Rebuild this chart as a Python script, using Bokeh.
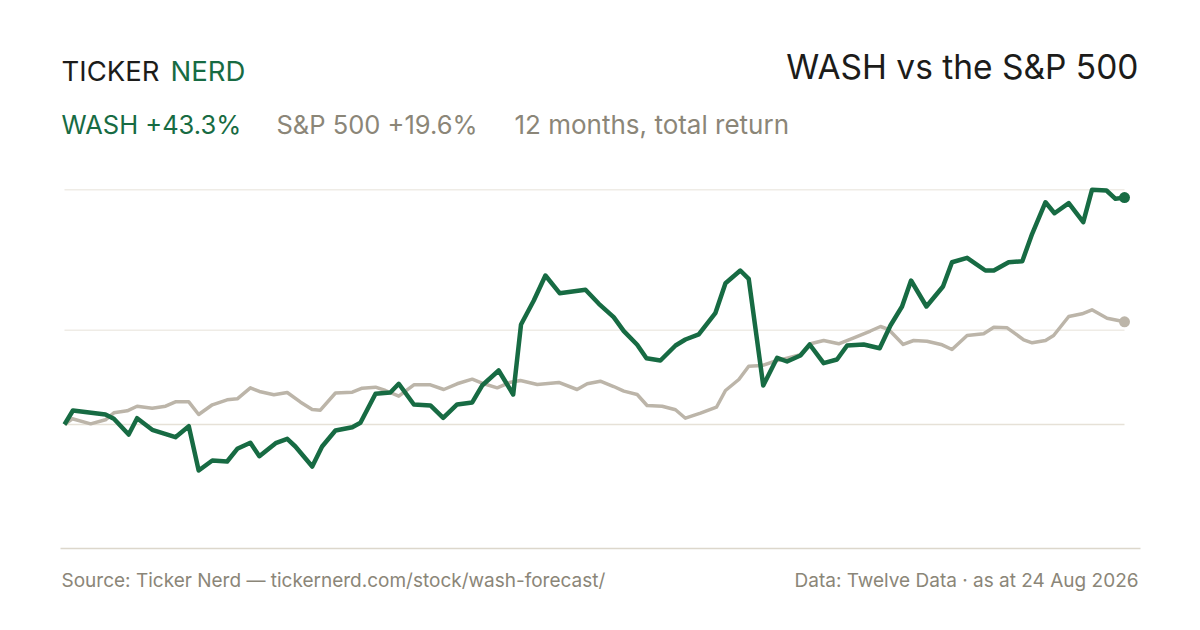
from bokeh.plotting import figure
from bokeh.models import Range1d
from bokeh.core.properties import value
from bokeh.embed import file_html
from bokeh.resources import INLINE

# ---- data: day offset from 24 Aug 2025, total return in % ----
wash_days = [0, 2.9, 14.1, 17.0, 22.1, 25.0, 30.2, 38.2, 42.8, 46.2, 50.9, 56.0, 59.5, 64.0,
             67.1, 72.7, 76.7, 79.5, 85.3, 88.7, 93.3, 99.1, 101.9, 107.1, 112.2, 115.1,
             120.3, 126.0, 130.4, 135.2, 140.4, 143.8, 149.5, 154.5, 157.2, 161.6, 165.6,
             170.5, 179.4, 184.0, 189.1, 192.6, 197.2, 200.4, 205.2, 210.4, 213.8, 218.4,
             224.1, 227.6, 232.7, 235.6, 240.6, 245.4, 248.8, 253.4, 256.6, 261.4, 266.0,
             269.5, 275.2, 280.7, 284.4, 288.4, 291.5, 296.8, 302.5, 305.6, 310.8, 317.1,
             320.0, 325.1, 329.8, 333.2, 337.8, 340.9, 345.8, 350.8, 353.8, 358.8, 361.9, 365]
wash_ret = [0.0, 2.67, 1.91, 1.09, -1.91, 1.20, -1.01, -2.42, -0.32, -8.78, -6.87, -7.06,
            -4.64, -3.49, -6.05, -3.57, -2.73, -4.20, -8.02, -4.20, -1.15, -0.52, 0.32, 5.86,
            6.11, 7.77, 3.82, 3.63, 1.28, 3.82, 4.20, 7.44, 10.31, 5.73, 19.08, 23.66, 28.44,
            25.06, 25.71, 23.03, 20.48, 17.81, 15.21, 12.65, 12.21, 15.08, 16.22, 17.18,
            21.24, 26.97, 29.39, 27.81, 7.44, 12.73, 12.02, 13.17, 15.27, 11.70, 12.40,
            15.08, 15.27, 14.56, 18.89, 22.52, 27.48, 22.52, 26.34, 30.97, 31.81, 29.39,
            29.39, 30.97, 31.16, 36.39, 42.42, 40.32, 42.23, 38.61, 44.79, 44.66, 43.07, 43.3]

spx_days = [0, 2.7, 9.0, 14.1, 17.0, 21.6, 25.0, 30.2, 34.8, 38.2, 42.8, 46.2, 50.9, 56.0,
            59.5, 64.0, 67.1, 72.1, 76.7, 81.3, 85.3, 88.1, 93.3, 99.1, 102.5, 107.1, 110.5,
            115.1, 120.3, 126.0, 130.6, 135.2, 140.4, 144.4, 149.0, 153.6, 157.0, 162.8,
            170.2, 176.5, 180.0, 184.5, 189.1, 192.6, 197.2, 200.6, 205.8, 210.4, 213.8,
            219.0, 224.5, 227.6, 232.2, 235.6, 240.2, 245.4, 248.8, 253.4, 256.9, 261.4,
            266.6, 271.8, 277.5, 281.0, 283.8, 288.8, 292.4, 297.0, 302.2, 305.6, 310.8,
            316.5, 320.0, 324.6, 330.3, 333.2, 337.8, 340.6, 345.8, 350.4, 353.8, 359.0, 365]
spx_ret = [0.0, 1.09, 0.13, 0.90, 2.23, 2.61, 3.49, 3.11, 3.49, 4.33, 4.33, 1.91, 3.76, 4.71,
           4.90, 7.00, 6.30, 5.67, 6.11, 4.26, 2.86, 2.73, 6.01, 6.16, 6.93, 7.12, 6.49, 5.40,
           7.58, 7.58, 6.68, 7.77, 8.65, 7.77, 7.00, 8.07, 8.40, 7.63, 8.02, 6.68, 7.77, 8.26,
           7.25, 6.36, 5.73, 3.63, 3.49, 2.81, 1.20, 2.16, 3.30, 6.49, 8.59, 11.13, 11.26,
           12.21, 12.65, 13.30, 15.40, 16.03, 15.40, 16.55, 17.84, 18.70, 18.13, 15.27,
           16.03, 15.90, 15.21, 14.31, 16.98, 17.31, 18.57, 18.45, 16.16, 15.59, 16.03,
           16.98, 20.61, 21.13, 21.89, 20.29, 19.6]

title = "WASH vs the S&P 500"
logo_a, logo_b = "TICKER", "NERD"
sub_wash = "WASH +43.3%"
sub_spx = "S&P 500 +19.6%"
sub_note = "12 months, total return"
source = "Source: Ticker Nerd \u2014 tickernerd.com/stock/wash-forecast/"
data_note = "Data: Twelve Data \u00b7 as at 24 Aug 2026"

# ---- layout (pixels of the 1200x630 picture) ----
W, H = 1184, 614
PLOT_L, PLOT_R = 64, 1124
ZERO_Y, PX_PER_PCT = 424, 5.24
DAYS = 365

def fx(px):
    return (px - PLOT_L) / (PLOT_R - PLOT_L) * DAYS

def fy(py):
    return (ZERO_Y - py) / PX_PER_PCT

GREEN = "#176b43"
GREY_LINE = "#bcb5a9"
GREY_TEXT = "#8b8678"
DARK = "#1c1c1a"
GRID = "#efece6"
ZERO = "#e6e1d7"
RULE = "#dcd7cc"
FONT = "Inter"

p = figure(width=W, height=H, output_backend="svg", toolbar_location=None,
           x_axis_type=None, y_axis_type=None, min_border=0,
           x_range=Range1d(fx(0), fx(W)), y_range=Range1d(fy(H), fy(0)))
p.outline_line_color = None
p.grid.visible = False
p.background_fill_color = "#ffffff"
p.border_fill_color = "#ffffff"

# gridlines: series max, midpoint of range, zero
top = max(wash_ret)
mid = (max(wash_ret) + min(wash_ret)) / 2
p.segment(x0=[0, 0], y0=[top, mid], x1=[DAYS, DAYS], y1=[top, mid], line_color=GRID, line_width=1.5)
p.segment(x0=[0], y0=[0], x1=[DAYS], y1=[0], line_color=ZERO, line_width=1.5)

# bottom rule
p.segment(x0=[fx(60)], y0=[fy(548)], x1=[fx(1140)], y1=[fy(548)], line_color=RULE, line_width=1.5)

# series
p.line(spx_days, spx_ret, line_color=GREY_LINE, line_width=3.5, line_join="round")
p.line(wash_days, wash_ret, line_color=GREEN, line_width=4.5, line_join="round")
p.scatter([spx_days[-1]], [spx_ret[-1]], size=11, fill_color=GREY_LINE, line_color=None)
p.scatter([wash_days[-1]], [wash_ret[-1]], size=11, fill_color=GREEN, line_color=None)

def txt(s, px, py, size, color, align="left"):
    p.text(x=[fx(px)], y=[fy(py)], text=[s], text_font=value(FONT), text_font_size=f"{size}px",
           text_color=color, text_align=align, text_baseline="middle")

txt(logo_a, 61, 70, 27.5, DARK)
txt(logo_b, 170, 70, 27.5, GREEN)
txt(title, 1138, 66, 33.5, DARK, "right")
txt(sub_wash, 61, 124, 25.5, GREEN)
txt(sub_spx, 276, 124, 25.5, GREY_TEXT)
txt(sub_note, 514, 124, 26, GREY_TEXT)
txt(source, 61, 580, 19, GREY_TEXT)
txt(data_note, 1138, 580, 19, GREY_TEXT, "right")

open("out.html", "w").write(file_html(p, INLINE))
